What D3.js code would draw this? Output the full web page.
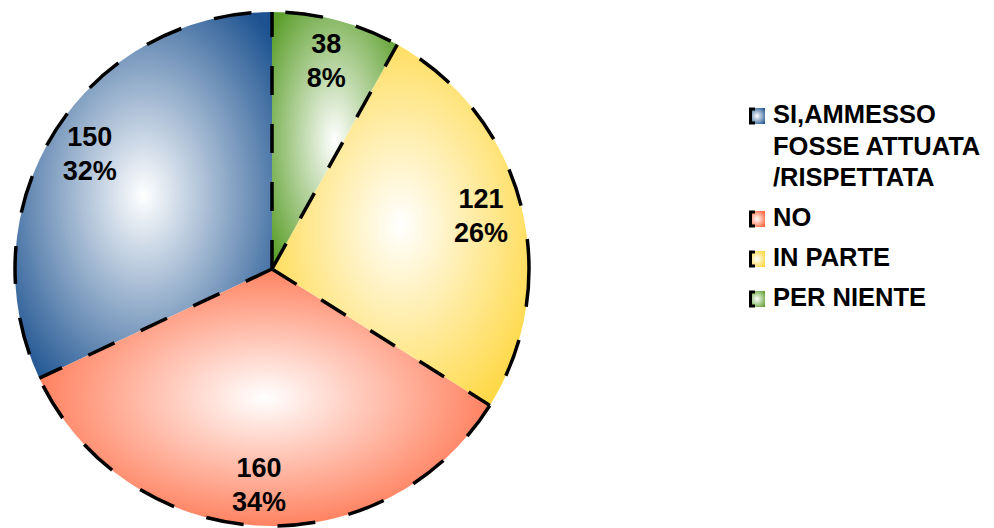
<!DOCTYPE html>
<html>
<head>
<meta charset="utf-8">
<script src="https://cdn.jsdelivr.net/npm/d3@7"></script>
<style>
  body { margin: 0; background: #fff; }
  text { font-family: "Liberation Sans", Arial, sans-serif; font-weight: bold; fill: #000; }
</style>
</head>
<body>
<div id="chart"></div>
<script>
// legend order (pie is drawn counterclockwise from 12 o'clock in this order)
const categories = [
  ["SI,AMMESSO", "FOSSE ATTUATA", "/RISPETTATA"],
  ["NO"],
  ["IN PARTE"],
  ["PER NIENTE"]
];
const values = [150, 160, 121, 38];
const colors = ["#1c5290", "#ff5a2e", "#ffd431", "#5b9e2a"];

const width = 994;
const height = 528;
const cx = 272, cy = 269, radius = 257;

const svg = d3.select("#chart")
  .append("svg")
  .attr("width", width)
  .attr("height", height);

const defs = svg.append("defs");

// radial gradient, white in the middle of each slice
colors.forEach((c, i) => {
  const g = defs.append("radialGradient")
    .attr("id", "grad-" + i)
    .attr("cx", 0.5).attr("cy", 0.5).attr("r", 0.66);
  g.append("stop").attr("offset", "0%").attr("stop-color", "#ffffff");
  g.append("stop").attr("offset", "100%").attr("stop-color", c);
});

const total = d3.sum(values);
const pie = d3.pie().sort(null).startAngle(0).endAngle(-2 * Math.PI);
const arcs = pie(values);

const arc = d3.arc().innerRadius(0).outerRadius(radius);
const labelArc = d3.arc().innerRadius(radius * 0.84).outerRadius(radius * 0.84);

const pieG = svg.append("g").attr("transform", `translate(${cx}, ${cy})`);

pieG.selectAll("path.slice")
  .data(arcs)
  .join("path")
    .attr("class", "slice")
    .attr("d", arc)
    .attr("fill", (d, i) => `url(#grad-${i})`);

//dashed outline around the circle
pieG.append("circle")
  .attr("r", radius)
  .attr("fill", "none")
  .attr("stroke", "#000")
  .attr("stroke-width", 3.5)
  .attr("stroke-dasharray", "38 34");

//dashed radial edges between slices
pieG.selectAll("line.edge")
  .data(arcs)
  .join("line")
    .attr("class", "edge")
    .attr("x1", 0).attr("y1", 0)
    .attr("x2", d => radius * Math.sin(d.startAngle))
    .attr("y2", d => -radius * Math.cos(d.startAngle))
    .attr("stroke", "#000")
    .attr("stroke-width", 3.5)
    .attr("stroke-dasharray", "29 29");

//value + percent labels
const labels = pieG.selectAll("g.label")
  .data(arcs)
  .join("g")
    .attr("class", "label")
    .attr("transform", d => {
      const [x, y] = labelArc.centroid(d);
      return `translate(${x}, ${y})`;
    });

labels.append("text")
  .attr("text-anchor", "middle")
  .attr("y", -7)
  .style("font-size", "27px")
  .text(d => d.value);

labels.append("text")
  .attr("text-anchor", "middle")
  .attr("y", 27)
  .style("font-size", "27px")
  .text(d => Math.round(d.value / total * 100) + "%");

//legend
const legend = svg.append("g").attr("transform", "translate(749, 0)");
let baseY = 123;
categories.forEach((lines, i) => {
  const item = legend.append("g");
  item.append("rect")
    .attr("x", 0).attr("y", baseY - 15)
    .attr("width", 16).attr("height", 16)
    .attr("fill", `url(#grad-${i})`);
  item.append("path")
    .attr("d", `M6,${baseY - 14} H1.5 V${baseY} H6`)
    .attr("fill", "none")
    .attr("stroke", "#000")
    .attr("stroke-width", 3);
  lines.forEach((t, j) => {
    item.append("text")
      .attr("x", 24)
      .attr("y", baseY + j * 31.5)
      .style("font-size", "25.5px")
      .text(t);
  });
  baseY += (lines.length - 1) * 31.5 + 40;
});
</script>
</body>
</html>
